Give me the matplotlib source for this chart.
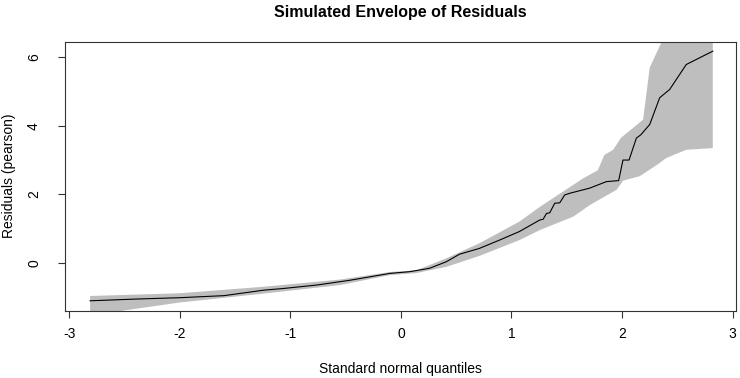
import matplotlib
matplotlib.use("Agg")
import matplotlib.pyplot as plt

plt.rcParams['font.family'] = ['Liberation Sans', 'DejaVu Sans']

quantiles = [-2.81, -2.40, -2.00, -1.60, -1.24, -1.06, -0.76, -0.46, -0.28, -0.10,
             0.08, 0.26, 0.41, 0.53, 0.71, 0.89, 1.07, 1.256, 1.286, 1.316,
             1.346, 1.391, 1.436, 1.481, 1.527, 1.707, 1.858, 1.969, 2.008, 2.063,
             2.129, 2.17, 2.25, 2.34, 2.43, 2.58, 2.82]
residuals = [-1.11, -1.06, -1.02, -0.96, -0.80, -0.75, -0.65, -0.51, -0.41, -0.31,
             -0.26, -0.16, 0.03, 0.25, 0.42, 0.66, 0.91, 1.25, 1.27, 1.44,
             1.46, 1.74, 1.75, 1.98, 2.03, 2.18, 2.37, 2.40, 3.00, 3.00,
             3.64, 3.74, 4.04, 4.82, 5.06, 5.79, 6.18]

# simulated envelope bounds
upper_x = [-2.81, -2.00, -1.24, -0.55, -0.10, 0.14, 0.41, 0.71, 1.07, 1.26,
           1.65, 1.78, 1.84, 1.92, 1.99, 2.10, 2.19, 2.25, 2.29, 2.38, 2.82]
upper_y = [-0.97, -0.89, -0.70, -0.49, -0.27, -0.22, 0.13, 0.57, 1.20, 1.64,
           2.47, 2.70, 3.15, 3.30, 3.65, 3.94, 4.18, 5.70, 5.98, 6.60, 7.50]
lower_x = [-2.81, -2.52, -2.00, -1.24, -0.55, -0.10, 0.14, 0.41, 0.71, 1.07,
           1.26, 1.56, 1.71, 1.95, 2.01, 2.16, 2.32, 2.40, 2.58, 2.82]
lower_y = [-1.75, -1.40, -1.16, -0.90, -0.65, -0.36, -0.30, -0.12, 0.20, 0.66,
           0.96, 1.35, 1.69, 2.13, 2.40, 2.53, 2.87, 3.06, 3.30, 3.35]

x_ticks = [-3, -2, -1, 0, 1, 2, 3]
y_ticks = [0, 2, 4, 6]

fig = plt.figure(figsize=(7.4, 3.78), dpi=100)
ax = fig.add_axes([0.0874, 0.178, 0.9072, 0.712])

ax.fill(upper_x + lower_x[::-1], upper_y + lower_y[::-1],
        color="#bebebe", linewidth=0)
ax.plot(quantiles, residuals, color="black", linewidth=0.8)

ax.set_xlim(-3.04, 3.03)
ax.set_ylim(-1.40, 6.46)
ax.set_xticks(x_ticks)
ax.set_xticklabels([str(t) for t in x_ticks])
ax.set_yticks(y_ticks)
ax.set_yticklabels([str(t) for t in y_ticks], rotation=90, va="center")

for s in ax.spines.values():
    s.set_color("#333333")
    s.set_linewidth(0.8)
ax.tick_params(direction="out", length=5, width=0.8, color="#333333",
               labelsize=10)
ax.tick_params(axis="x", pad=7)
ax.tick_params(axis="y", pad=12)

ax.set_title("Simulated Envelope of Residuals", fontsize=11.5, fontweight="bold", pad=18)
ax.set_xlabel("Standard normal quantiles", fontsize=10, labelpad=15)
ax.set_ylabel("Residuals (pearson)", fontsize=10, labelpad=8)

fig.savefig("out.png", dpi=100)
